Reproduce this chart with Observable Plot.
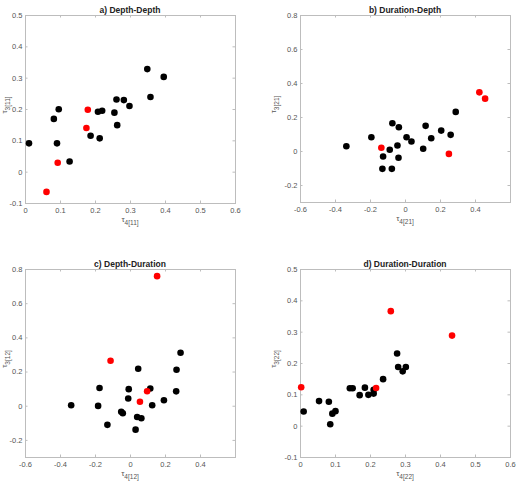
<!DOCTYPE html>
<html><head><meta charset="utf-8">
<script src="https://cdn.jsdelivr.net/npm/d3@7"></script>
<script src="https://cdn.jsdelivr.net/npm/@observablehq/plot@0.6"></script>
<style>
body{margin:0;background:#fff;}
#chart{position:relative;width:519px;height:482px;overflow:hidden;background:#fff;}
#chart svg{position:absolute;}
</style></head><body><div id="chart"></div>
<script>
// ---- data (x = tau4, y = tau3) ----
const depthDepthBlack = [[0.010,0.092],[0.081,0.170],[0.095,0.201],[0.090,0.092],[0.126,0.034],[0.186,0.116],[0.207,0.193],[0.219,0.196],[0.212,0.108],[0.254,0.190],[0.260,0.232],[0.281,0.230],[0.297,0.211],[0.262,0.150],[0.348,0.329],[0.395,0.304],[0.357,0.240]];
const depthDepthRed = [[0.060,-0.063],[0.092,0.030],[0.178,0.199],[0.174,0.141]];
const durationDepthBlack = [[-0.338,0.031],[-0.195,0.084],[-0.128,-0.029],[-0.132,-0.102],[-0.090,0.010],[-0.075,0.166],[-0.078,-0.102],[-0.046,0.035],[-0.038,0.143],[-0.040,-0.037],[0.006,0.084],[0.034,0.059],[0.101,0.016],[0.115,0.151],[0.147,0.078],[0.204,0.123],[0.258,0.098],[0.287,0.233]];
const durationDepthRed = [[-0.138,0.022],[0.248,-0.014],[0.422,0.348],[0.455,0.311]];
const depthDurationBlack = [[-0.339,0.006],[-0.185,0.002],[-0.177,0.107],[-0.132,-0.109],[-0.053,-0.033],[-0.044,-0.041],[-0.013,0.045],[-0.010,0.100],[0.044,0.219],[0.029,-0.137],[0.038,-0.063],[0.062,-0.070],[0.113,0.104],[0.124,0.006],[0.191,0.035],[0.263,0.213],[0.261,0.087],[0.286,0.313]];
const depthDurationRed = [[-0.114,0.266],[0.054,0.026],[0.095,0.088],[0.152,0.761]];
const durationDurationBlack = [[0.009,0.047],[0.053,0.080],[0.081,0.078],[0.085,0.006],[0.091,0.040],[0.100,0.048],[0.141,0.121],[0.149,0.121],[0.169,0.099],[0.184,0.123],[0.194,0.100],[0.209,0.104],[0.209,0.116],[0.236,0.150],[0.276,0.232],[0.279,0.189],[0.292,0.175],[0.301,0.189]];
const durationDurationRed = [[0.002,0.124],[0.216,0.122],[0.258,0.367],[0.433,0.289]];

// ---- tick labels / titles ----
const ticksPosX = [0,0.1,0.2,0.3,0.4,0.5,0.6];
const ticksPosY = [-0.1,0,0.1,0.2,0.3,0.4,0.5];
const ticksSymX = [-0.6,-0.4,-0.2,0,0.2,0.4];
const ticksSymY = [-0.2,0,0.2,0.4,0.6,0.8];
const titles = ["a) Depth-Depth","b) Duration-Depth","c) Depth-Duration","d) Duration-Duration"];
const xSubs = ["4[11]","4[21]","4[12]","4[22]"];
const ySubs = ["3[11]","3[21]","3[12]","3[22]"];

const FONT = '"Liberation Sans", Arial, Helvetica, sans-serif';
const GRID = "#bdbdbd";

const panels = [
  {left:0,   top:0,   w:260, h:240, m:[15,25,37,25], xd:[0,0.6],   yd:[-0.1,0.5], xt:ticksPosX, yt:ticksPosY, black:depthDepthBlack, red:depthDepthRed},
  {left:259, top:0,   w:260, h:240, m:[15,9,38,41],  xd:[-0.6,0.6], yd:[-0.3,0.8], xt:ticksSymX, yt:ticksSymY, black:durationDepthBlack, red:durationDepthRed},
  {left:0,   top:240, w:260, h:242, m:[29,25,25,25], xd:[-0.6,0.6], yd:[-0.3,0.8], xt:ticksSymX, yt:ticksSymY, black:depthDurationBlack, red:depthDurationRed},
  {left:259, top:240, w:260, h:242, m:[29,9,25,41],  xd:[0,0.6],   yd:[-0.1,0.5], xt:ticksPosX, yt:ticksPosY, black:durationDurationBlack, red:durationDurationRed}
];

const chart = document.getElementById("chart");
panels.forEach((p, i) => {
  const [mt, mr, mb, ml] = p.m;
  const fw = p.w - ml - mr, fh = p.h - mt - mb;
  const tl = 2.5;
  const svg = Plot.plot({
    width: p.w, height: p.h,
    marginTop: mt, marginRight: mr, marginBottom: mb, marginLeft: ml,
    style: {fontFamily: FONT, fontSize: "7.5px", color: "#555", background: "transparent", overflow: "visible"},
    x: {domain: p.xd},
    y: {domain: p.yd},
    marks: [
      Plot.frame({stroke: GRID}),
      Plot.tickX(p.xt, {x: d => d, insetTop: fh - tl, stroke: GRID}),
      Plot.tickX(p.xt, {x: d => d, insetBottom: fh - tl, stroke: GRID}),
      Plot.tickY(p.yt, {y: d => d, insetRight: fw - tl, stroke: GRID}),
      Plot.tickY(p.yt, {y: d => d, insetLeft: fw - tl, stroke: GRID}),
      Plot.axisX(p.xt, {tickSize: 0, tickPadding: 4, tickFormat: d => String(d), label: null, fill: "#555"}),
      Plot.axisY(p.yt, {tickSize: 0, tickPadding: 3, tickFormat: d => String(d), label: null, fill: "#555"}),
      Plot.dot(p.black, {x: d => d[0], y: d => d[1], r: 3.3, fill: "#000", stroke: null}),
      Plot.dot(p.red, {x: d => d[0], y: d => d[1], r: 3.3, fill: "#f00", stroke: null})
    ]
  });
  svg.style.left = p.left + "px";
  svg.style.top = p.top + "px";
  const s = d3.select(svg);
  const cx = ml + fw / 2;
  // title
  s.append("text").attr("x", cx).attr("y", mt - 2.5)
    .attr("text-anchor", "middle").attr("font-family", FONT)
    .attr("font-size", "8.5px").attr("font-weight", "bold").attr("fill", "#222")
    .text(titles[i]);
  // x label
  const xl = s.append("text").attr("x", cx).attr("y", mt + fh + 19)
    .attr("text-anchor", "middle").attr("font-family", FONT).attr("fill", "#555").attr("font-size", "8px");
  xl.append("tspan").text("τ");
  xl.append("tspan").attr("dy", 3).attr("font-size", "6.5px").text(xSubs[i]);
  // y label (kept just inside the page edge for the left column)
  const cy = mt + fh / 2 - 4;
  const lx = Math.max(ml - 24, 7);
  const yl = s.append("text").attr("transform", `translate(${lx},${cy}) rotate(-90)`)
    .attr("text-anchor", "middle").attr("font-family", FONT).attr("fill", "#555").attr("font-size", "8px");
  yl.append("tspan").text("τ");
  yl.append("tspan").attr("dy", 2.5).attr("font-size", "6.5px").text(ySubs[i]);
  chart.appendChild(svg);
});
</script>
</body></html>
